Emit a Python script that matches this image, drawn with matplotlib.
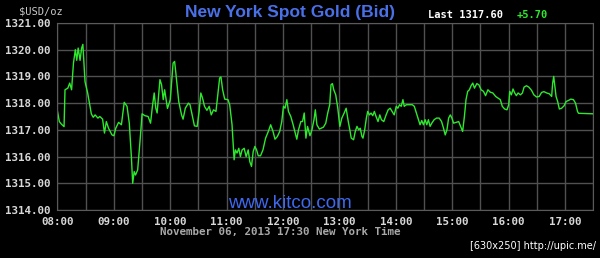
import matplotlib
matplotlib.use("Agg")
import matplotlib.pyplot as plt

# minutes after 08:00 and bid price
minutes = [0, 2, 4, 7, 8, 11, 13, 15, 17, 19, 20.5, 22, 24, 25.7, 27, 29.3, 32, 36, 38, 40,
           43, 45, 48, 50, 52, 54.3, 58, 60, 62, 65, 68, 71, 74, 76.4, 78.6, 80, 81.6, 83, 85.3, 87.9,
           90, 93, 96.4, 99, 101, 102.9, 104.6, 106, 109, 110.7, 112.5, 114, 117, 120, 123, 124.6,
           126, 129, 132, 133.6, 136, 139.3, 141, 143.6, 145.7, 148.6, 150.7, 152.5, 154.3, 156.4,
           159, 161.4, 163.6, 166, 168.6, 170.7, 172.5, 173.9, 175.7, 177.9, 181.4, 183.2, 185.7,
           187.9, 189.3, 191, 192.9, 194.6, 196.4, 198.6, 200.7, 202.9, 204.6, 206.4, 208.2, 210,
           211.8, 213.6, 216, 218.6, 221.4, 224.3, 226.8, 229.3, 231.4, 233.9, 236.4, 238.6, 240.4,
           242.1, 244, 245.7, 248.2, 250.7, 252.9, 254.6, 256.4, 258.9, 260.7, 262.5, 264.3, 266,
           268.6, 270.7, 272.9, 274.3, 276, 278.6, 280.4, 282.9, 285.4, 287.5, 289.6, 291, 292.5,
           293.9, 296, 298.2, 300.4, 302.5, 305, 307.1, 309, 311, 312.5, 315, 316.8, 318.6, 320.4,
           322.1, 323.9, 325, 326.8, 328.6, 330, 331.8, 333.6, 335.4, 337.1, 338.9, 341, 342.9,
           344.6, 347.1, 349.6, 351.8, 353.9, 356, 358.2, 360.4, 362.1, 363.9, 365.7, 367.5, 368.9,
           371.1, 373.9, 377.5, 379.6, 381.8, 383.9, 385.7, 387.5, 389.3, 391.1, 392.9, 394.6,
           396.4, 398.2, 400.7, 403.2, 406.1, 408.6, 410.7, 412.5, 414.3, 416.1, 417.9, 419.6,
           421.4, 424, 426.8, 428.9, 431, 432.9, 434.6, 436.4, 438.2, 440, 441.8, 443.6, 446.1,
           448.2, 450.7, 453.2, 455.4, 457.9, 460.4, 463.2, 466.1, 468.6, 471.1, 473.2, 475.7,
           478.2, 480, 481.1, 482.9, 484.6, 486.4, 488.2, 490, 492.5, 494.6, 496.4, 498.9, 501.4,
           504.3, 506.8, 509.6, 512.5, 515, 517.5, 520.4, 523.2, 525.7, 526.8, 527.9, 528.9, 530.4,
           532.1, 533.9, 536.4, 538.9, 541.1, 543.6, 546.1, 548.9, 551.1, 553.2, 554.3, 570]
bid = [1317.69, 1317.31, 1317.22, 1317.12, 1318.5, 1318.56, 1318.75, 1318.5, 1319.5, 1320.0,
       1319.6, 1320.06, 1319.6, 1320.06, 1320.2, 1318.8, 1318.4, 1317.6, 1317.47, 1317.56,
       1317.44, 1317.5, 1317.4, 1316.88, 1317.31, 1317.06, 1316.81, 1316.78, 1317.06, 1317.28,
       1317.19, 1318.03, 1317.88, 1317.25, 1316.0, 1315.0, 1315.44, 1315.31, 1315.5, 1316.62,
       1317.6, 1317.53, 1317.5, 1317.25, 1317.88, 1318.38, 1317.81, 1317.63, 1318.88, 1318.69,
       1318.13, 1318.5, 1317.8, 1318.13, 1319.5, 1319.56, 1319.1, 1318.06, 1317.56, 1317.4,
       1317.81, 1318.0, 1317.94, 1317.5, 1317.15, 1317.13, 1317.69, 1318.38, 1318.19, 1317.88,
       1317.73, 1317.88, 1317.56, 1317.75, 1317.69, 1318.38, 1318.94, 1318.98, 1318.5, 1318.15,
       1318.13, 1317.94, 1317.19, 1315.88, 1316.25, 1316.13, 1316.31, 1316.0, 1316.25, 1316.31,
       1316.0, 1316.25, 1315.81, 1315.63, 1316.19, 1316.38, 1316.25, 1316.03, 1316.03, 1316.25,
       1316.69, 1316.94, 1317.19, 1316.94, 1316.65, 1316.75, 1316.94, 1317.31, 1317.88, 1317.81,
       1318.13, 1317.69, 1317.5, 1317.19, 1316.88, 1316.65, 1317.0, 1317.31, 1317.31, 1317.63,
       1316.69, 1317.13, 1316.78, 1317.0, 1317.38, 1317.75, 1317.19, 1317.03, 1317.06, 1317.1,
       1317.25, 1317.63, 1317.94, 1318.69, 1318.73, 1318.5, 1318.31, 1317.81, 1317.13, 1317.44,
       1317.63, 1317.81, 1317.38, 1317.0, 1316.69, 1316.63, 1316.94, 1317.13, 1317.0, 1317.06,
       1316.75, 1316.69, 1317.0, 1317.44, 1317.69, 1317.56, 1317.63, 1317.53, 1317.69, 1317.5,
       1317.31, 1317.56, 1317.38, 1317.31, 1317.56, 1317.75, 1317.81, 1317.69, 1317.56, 1317.88,
       1317.81, 1317.94, 1317.88, 1318.13, 1317.88, 1317.94, 1317.94, 1317.94, 1317.88, 1317.63,
       1317.4, 1317.19, 1317.35, 1317.19, 1317.38, 1317.19, 1317.38, 1317.13, 1317.25, 1317.38,
       1317.44, 1317.44, 1317.31, 1317.06, 1316.81, 1317.0, 1317.44, 1317.56, 1317.44, 1317.25,
       1317.28, 1317.31, 1317.13, 1316.94, 1317.5, 1318.13, 1318.44, 1318.5, 1318.65, 1318.75,
       1318.56, 1318.73, 1318.69, 1318.5, 1318.44, 1318.28, 1318.5, 1318.41, 1318.38, 1318.25,
       1318.19, 1318.13, 1317.88, 1317.78, 1317.75, 1317.94, 1318.44, 1318.31, 1318.53, 1318.38,
       1318.28, 1318.38, 1318.31, 1318.38, 1318.6, 1318.65, 1318.6, 1318.48, 1318.31, 1318.23,
       1318.25, 1318.4, 1318.43, 1318.38, 1318.35, 1318.25, 1318.75, 1319.0, 1318.69, 1318.25,
       1318.06, 1317.78, 1317.81, 1317.9, 1318.06, 1318.1, 1318.15, 1318.13, 1318.0, 1317.69,
       1317.62, 1317.6]

hour_labels = ["08:00", "09:00", "10:00", "11:00", "12:00", "13:00",
               "14:00", "15:00", "16:00", "17:00"]
price_ticks = [1314, 1315, 1316, 1317, 1318, 1319, 1320, 1321]

mono = "DejaVu Sans Mono"
fig = plt.figure(figsize=(6.0, 2.58), dpi=100, facecolor="black")
ax = fig.add_axes([0.0958, 0.186, 0.893, 0.725], facecolor="black")

ax.plot(minutes, bid, color="#2ee82e", lw=1.0)

ax.set_xlim(0, 570)
ax.set_ylim(1314, 1321)
xt = list(range(0, 571, 30))
ax.set_xticks(xt)
ax.set_xticklabels([hour_labels[i // 2] if i % 2 == 0 and i // 2 < len(hour_labels) else ""
                    for i in range(len(xt))])
ax.set_yticks(price_ticks)
ax.set_yticklabels(["%.2f" % p for p in price_ticks])
ax.grid(True, color="#505050", lw=1.0)
ax.set_axisbelow(True)
ax.tick_params(length=0, colors="#d8d8d8", labelsize=7.8)
ax.tick_params(axis="x", pad=5)
ax.tick_params(axis="y", pad=5)
for lab in ax.get_xticklabels() + ax.get_yticklabels():
    lab.set_fontfamily(mono)
    lab.set_fontweight("bold")
for s in ax.spines.values():
    s.set_color("#5a5a5a")

fig.text(19 / 600, 1 - 11 / 258, "$USD/oz", color="#c8c8c8", family=mono,
         fontsize=7.5, va="center", ha="left")
fig.text(290 / 600, 1 - 12 / 258, "New York Spot Gold (Bid)", color="#4a70e8",
         family="Liberation Sans", fontweight="bold", fontsize=12.5, ha="center", va="center")
fig.text(428 / 600, 1 - 15 / 258, "Last 1317.60", color="white", family=mono,
         fontweight="bold", fontsize=7.5, ha="left", va="center")
fig.text(517 / 600, 1 - 15 / 258, "+5.70", color="#2ee82e", family=mono,
         fontweight="bold", fontsize=7.5, ha="left", va="center")
fig.text(290 / 600, 1 - 203 / 258, "www.kitco.com", color="#3e68ee",
         family="Liberation Sans", fontsize=13.5, ha="center", va="center")
fig.text(280 / 600, 1 - 232 / 258, "November 06, 2013 17:30 New York Time", color="#a8a8a8",
         family=mono, fontweight="bold", fontsize=7.8, ha="center", va="center")
fig.text(596 / 600, 1 - 246 / 258, "[630x250] http://upic.me/", color="white",
         family="DejaVu Sans", fontsize=7, ha="right", va="center")

fig.savefig("out.png", dpi=100, facecolor="black")
